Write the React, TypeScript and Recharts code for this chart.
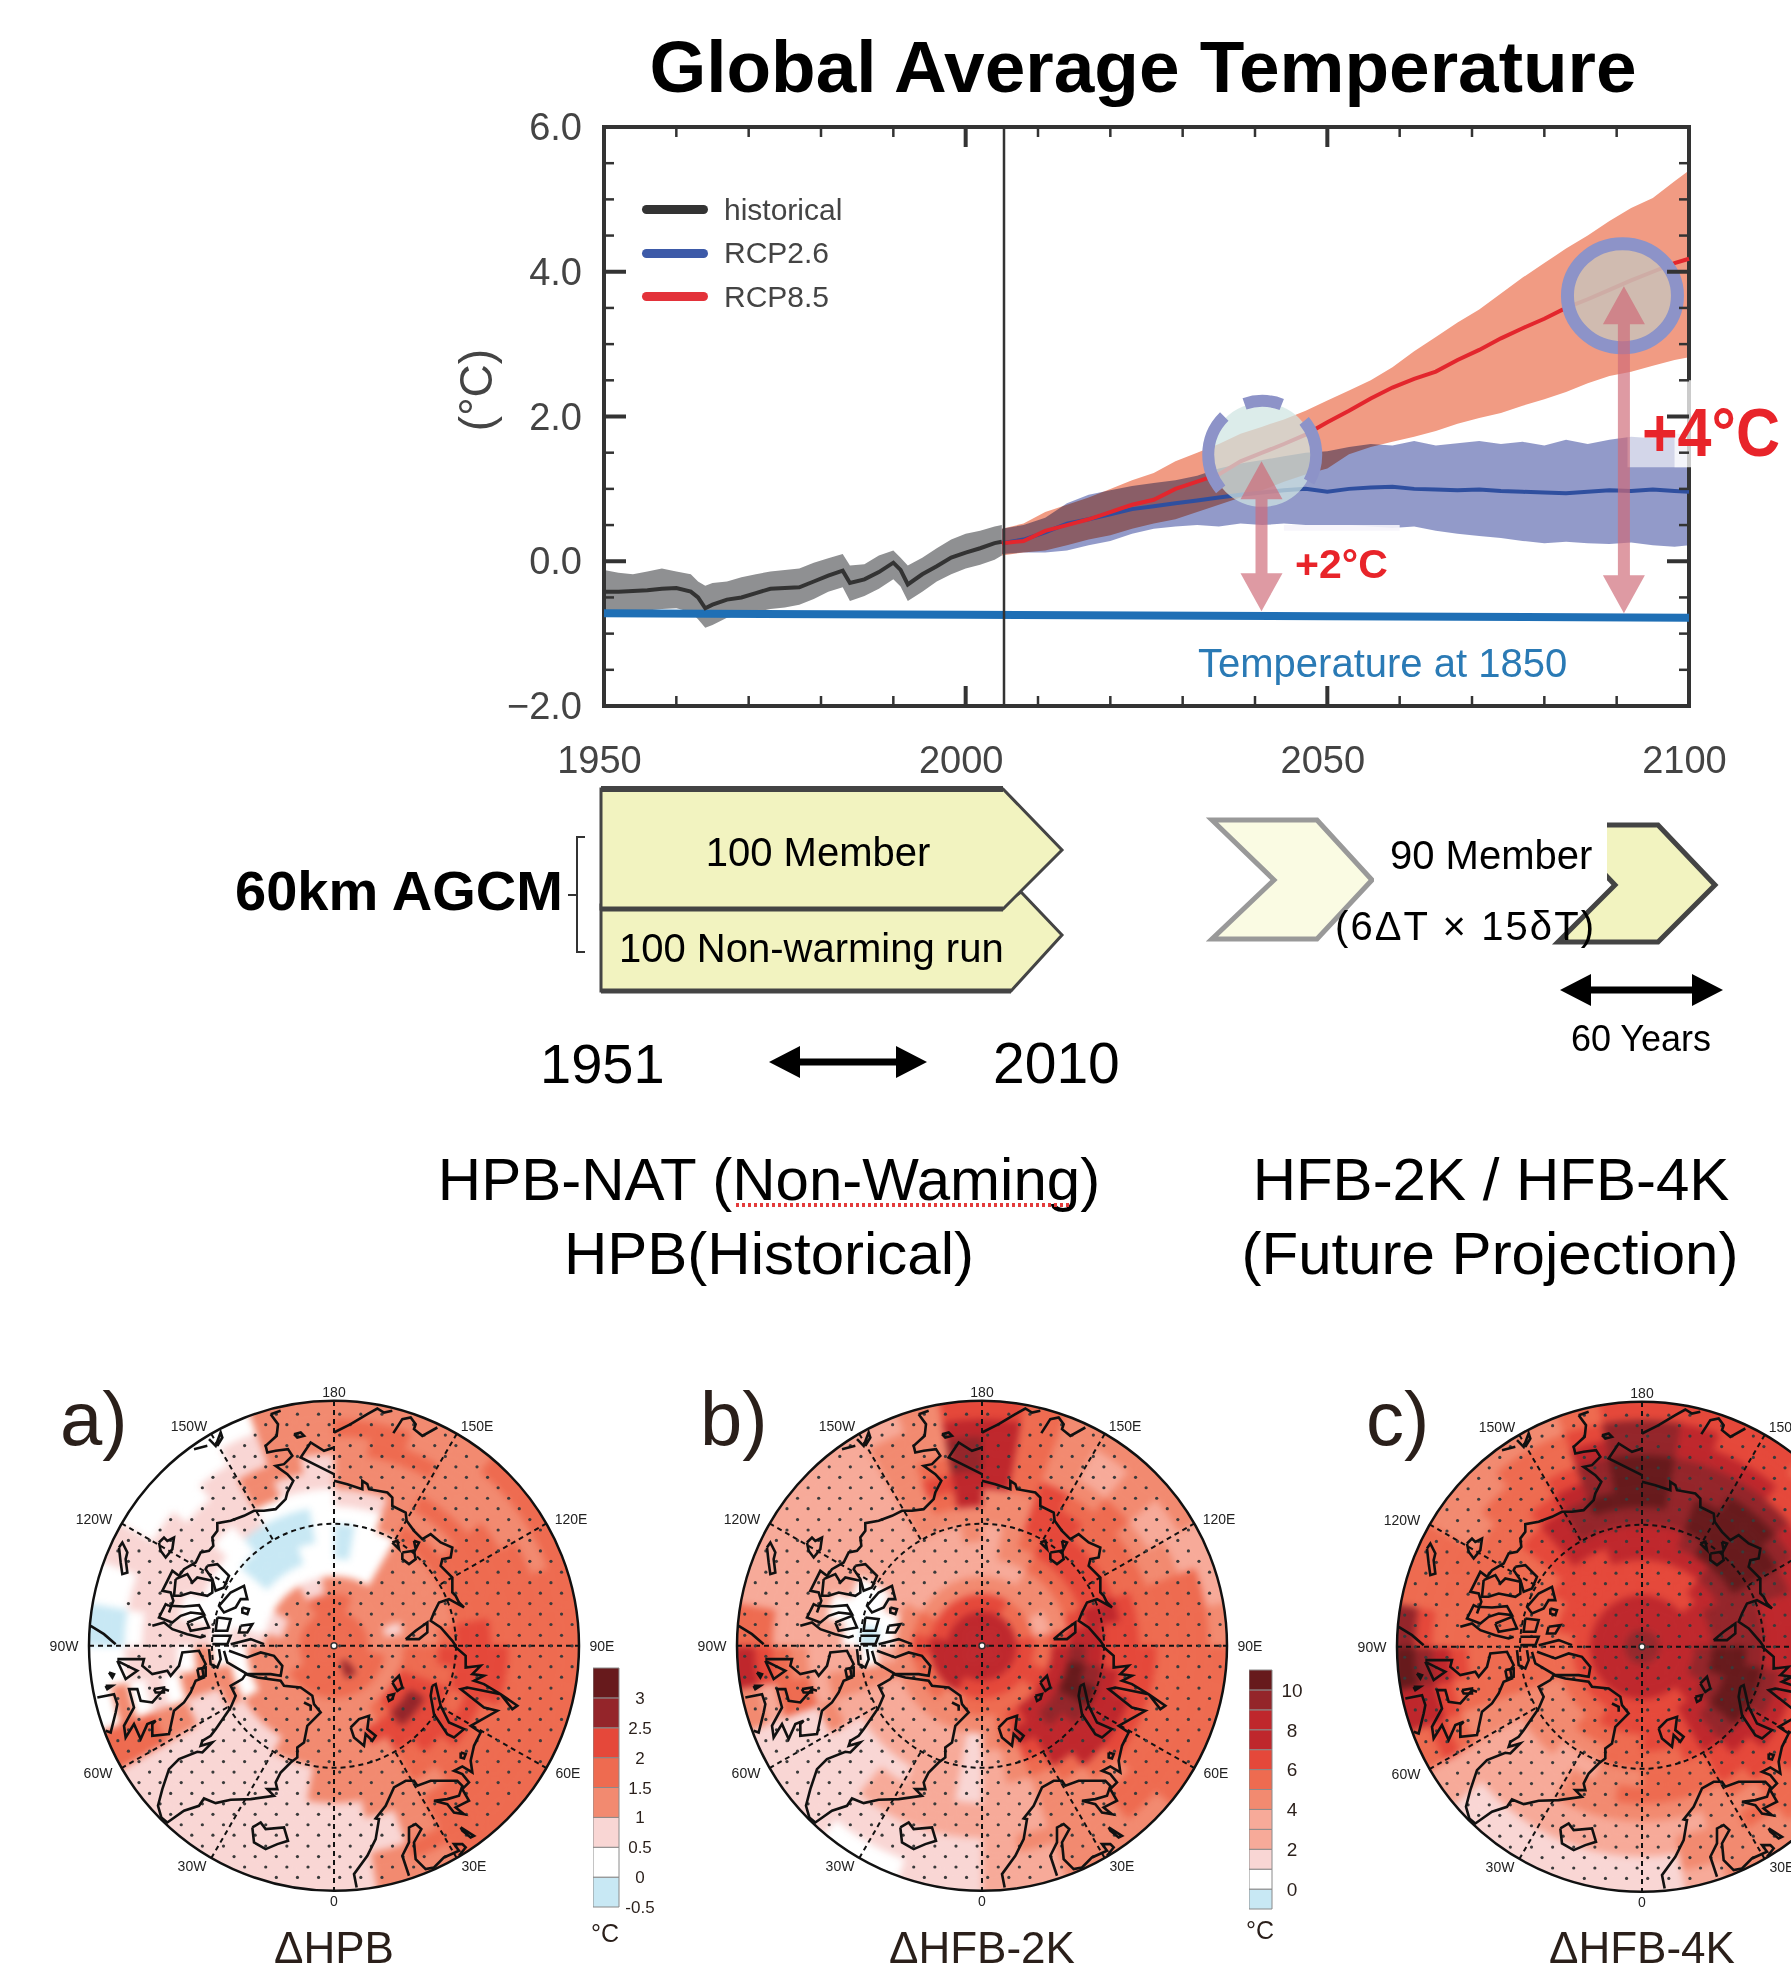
import React from 'react'
import {
  Area,
  Bar,
  BarChart,
  Cell,
  ComposedChart,
  Legend,
  Line,
  Pie,
  PieChart,
  ReferenceArea,
  ReferenceDot,
  ReferenceLine,
  Scatter,
  ScatterChart,
  XAxis,
  YAxis,
} from 'recharts'

// ---- top panel: global average temperature ----
const histYears = [1950, 1952, 1954, 1956, 1958, 1960, 1962, 1963, 1964, 1965, 1967, 1969, 1971, 1973, 1975, 1977, 1979, 1981, 1983, 1984, 1986, 1988, 1990, 1991, 1992, 1994, 1996, 1998, 2000, 2002, 2004, 2005]
const histMean = [-0.42, -0.42, -0.41, -0.4, -0.38, -0.37, -0.42, -0.5, -0.65, -0.6, -0.53, -0.5, -0.44, -0.38, -0.37, -0.36, -0.28, -0.2, -0.13, -0.3, -0.25, -0.15, -0.02, -0.12, -0.32, -0.18, -0.07, 0.05, 0.12, 0.18, 0.25, 0.27]
const histHigh = [-0.12, -0.16, -0.18, -0.14, -0.1, -0.14, -0.18, -0.28, -0.34, -0.3, -0.28, -0.22, -0.18, -0.14, -0.12, -0.1, -0.02, 0.04, 0.1, -0.06, -0.04, 0.08, 0.15, 0.05, -0.06, 0.05, 0.18, 0.3, 0.38, 0.42, 0.48, 0.5]
const histLow = [-0.72, -0.7, -0.68, -0.68, -0.66, -0.65, -0.7, -0.8, -0.92, -0.88, -0.78, -0.75, -0.7, -0.66, -0.64, -0.6, -0.52, -0.42, -0.36, -0.55, -0.48, -0.38, -0.25, -0.35, -0.55, -0.42, -0.28, -0.18, -0.1, -0.05, 0.02, 0.08]

const futureYears = [2005, 2008, 2011, 2014, 2017, 2020, 2023, 2026, 2029, 2032, 2035, 2038, 2041, 2044, 2047, 2050, 2053, 2056, 2059, 2062, 2065, 2068, 2071, 2074, 2077, 2080, 2083, 2086, 2089, 2092, 2095, 2098, 2100]
const rcp85Mean = [0.25, 0.28, 0.42, 0.5, 0.58, 0.68, 0.78, 0.85, 1.0, 1.1, 1.2, 1.38, 1.5, 1.62, 1.75, 1.92, 2.08, 2.25, 2.4, 2.52, 2.62, 2.78, 2.92, 3.08, 3.22, 3.35, 3.5, 3.62, 3.75, 3.88, 4.0, 4.12, 4.18]
const rcp85High = [0.45, 0.52, 0.68, 0.78, 0.88, 1.0, 1.12, 1.22, 1.38, 1.5, 1.62, 1.76, 1.86, 1.96, 2.08, 2.22, 2.36, 2.5, 2.68, 2.9, 3.1, 3.3, 3.48, 3.7, 3.92, 4.12, 4.32, 4.5, 4.7, 4.88, 5.02, 5.25, 5.4]
const rcp85Low = [0.08, 0.12, 0.15, 0.22, 0.3, 0.36, 0.45, 0.52, 0.58, 0.68, 0.78, 0.88, 0.98, 1.1, 1.2, 1.28, 1.48, 1.58, 1.65, 1.72, 1.8, 1.9, 1.98, 2.05, 2.15, 2.24, 2.34, 2.46, 2.56, 2.62, 2.7, 2.78, 2.82]
const rcp26Mean = [0.25, 0.3, 0.4, 0.52, 0.58, 0.65, 0.72, 0.76, 0.8, 0.84, 0.88, 0.92, 0.95, 0.98, 1.0, 0.96, 1.0, 1.02, 1.03, 1.0, 0.99, 0.98, 0.99, 0.97, 0.96, 0.95, 0.94, 0.96, 0.98, 0.97, 0.99, 0.97, 0.96]
const rcp26High = [0.45, 0.5, 0.6, 0.8, 0.92, 0.98, 1.04, 1.08, 1.12, 1.18, 1.28, 1.35, 1.4, 1.45, 1.5, 1.52, 1.58, 1.62, 1.6, 1.66, 1.6, 1.63, 1.66, 1.62, 1.65, 1.6, 1.68, 1.62, 1.68, 1.72, 1.7, 1.76, 1.75]
const rcp26Low = [0.1, 0.12, 0.12, 0.15, 0.22, 0.28, 0.38, 0.45, 0.48, 0.5, 0.48, 0.52, 0.5, 0.52, 0.5, 0.5, 0.5, 0.48, 0.46, 0.48, 0.42, 0.38, 0.35, 0.32, 0.28, 0.25, 0.27, 0.25, 0.24, 0.26, 0.22, 0.2, 0.22]

const baseYears = [1950, 2000, 2050, 2100]
const baseTemp = [-0.72, -0.74, -0.76, -0.78]

const xTicks = [1950, 1960, 1970, 1980, 1990, 2000, 2010, 2020, 2030, 2040, 2050, 2060, 2070, 2080, 2090, 2100]
const yTicks = [-2, -1.5, -1, -0.5, 0, 0.5, 1, 1.5, 2, 2.5, 3, 3.5, 4, 4.5, 5, 5.5, 6]
const legendNames = ['historical', 'RCP2.6', 'RCP8.5']
const legendColors = ['#333333', '#3d5aa8', '#e3323a']

const PLOT_LEFT = 604
const PLOT_RIGHT = 1689
const PLOT_TOP = 127
const PLOT_BOTTOM = 706

const rowsByYear = new Map<number, any>()
const rowFor = (year: number) => {
  if (!rowsByYear.has(year)) rowsByYear.set(year, { year })
  return rowsByYear.get(year)
}
histYears.forEach((y, i) => {
  Object.assign(rowFor(y), { hist: histMean[i], histBand: [histLow[i], histHigh[i]] })
})
futureYears.forEach((y, i) => {
  Object.assign(rowFor(y), {
    rcp85: rcp85Mean[i],
    rcp85Band: [rcp85Low[i], rcp85High[i]],
    rcp26: rcp26Mean[i],
    rcp26Band: [rcp26Low[i], rcp26High[i]],
  })
})
baseYears.forEach((y, i) => {
  rowFor(y).base = baseTemp[i]
})
const tempRows = Array.from(rowsByYear.values()).sort((a, b) => a.year - b.year)

const YTick = ({ x, y, payload }: any) => {
  const v = payload.value
  const major = v % 2 === 0
  const len = major ? 22 : 10
  const w = major ? 4 : 2.5
  return (
    <g>
      <line x1={PLOT_LEFT} x2={PLOT_LEFT + len} y1={y} y2={y} stroke="#333" strokeWidth={w} />
      <line x1={PLOT_RIGHT} x2={PLOT_RIGHT - len} y1={y} y2={y} stroke="#333" strokeWidth={w} />
      {major && (
        <text x={x - 22} y={y + 13} textAnchor="end" fontSize={38} fill="#444">
          {(v < 0 ? '\u2212' : '') + Math.abs(v).toFixed(1)}
        </text>
      )}
    </g>
  )
}

const XTick = ({ x, y, payload }: any) => {
  const v = payload.value
  const major = v % 50 === 0
  const len = major ? 20 : 10
  const w = major ? 4 : 2.5
  return (
    <g>
      <line x1={x} x2={x} y1={PLOT_BOTTOM} y2={PLOT_BOTTOM - len} stroke="#333" strokeWidth={w} />
      <line x1={x} x2={x} y1={PLOT_TOP} y2={PLOT_TOP + len} stroke="#333" strokeWidth={w} />
      {major && (
        <text x={x - 4.5} y={y + 67} textAnchor="middle" fontSize={38} fill="#444">
          {v}
        </text>
      )}
    </g>
  )
}

const TempLegend = () => (
  <div style={{ fontFamily: '"Liberation Sans"', fontSize: 30, color: '#444' }}>
    {legendNames.map((name, i) => (
      <div key={name} style={{ display: 'flex', alignItems: 'center', height: 43.5 }}>
        <span
          style={{
            display: 'inline-block',
            width: 66,
            height: 9,
            borderRadius: 4.5,
            marginRight: 16,
            background: legendColors[i],
          }}
        />
        {name}
      </div>
    ))}
  </div>
)

const DoubleArrow = ({ x1, y1, y2 }: any) => {
  const top = Math.min(y1, y2)
  const bottom = Math.max(y1, y2)
  const hw = 21
  const hh = 38
  return (
    <path
      d={`M${x1} ${top} L${x1 + hw} ${top + hh} L${x1 + 6} ${top + hh} L${x1 + 6} ${bottom - hh} L${x1 + hw} ${bottom - hh} L${x1} ${bottom} L${x1 - hw} ${bottom - hh} L${x1 - 6} ${bottom - hh} L${x1 - 6} ${top + hh} L${x1 - hw} ${top + hh} Z`}
      fill="#cf6a78"
      fillOpacity={0.68}
    />
  )
}

const DashedRing = ({ x1, y1 }: any) => (
  <g>
    <circle cx={x1} cy={y1} r={52} fill="#cfe5e2" fillOpacity={0.72} />
    <circle cx={x1} cy={y1} r={54} fill="none" stroke="#8d93c8" strokeWidth={12} strokeDasharray="28 104 80 24 38 28 38 0" />
  </g>
)

const SolidRing = ({ x1, y1 }: any) => (
  <g>
    <ellipse cx={x1} cy={y1} rx={54} ry={52} fill="#cbbfb6" fillOpacity={0.88} />
    <ellipse cx={x1} cy={y1} rx={55} ry={52} fill="none" stroke="#8d93c8" strokeWidth={13} />
  </g>
)

const TempChart = () => (
  <div style={{ position: 'absolute', left: 0, top: 0 }}>
    <style>{`.mult-band path { mix-blend-mode: multiply; }`}</style>
    <ComposedChart
      width={1791}
      height={800}
      data={tempRows}
      margin={{ top: PLOT_TOP, left: PLOT_LEFT - 60, right: 1791 - PLOT_RIGHT, bottom: 800 - PLOT_BOTTOM - 70 }}
    >
      <XAxis dataKey="year" type="number" domain={[1950, 2100]} ticks={xTicks} interval={0} height={70} axisLine={false} tickLine={false} tickSize={0} tickMargin={0} tick={<XTick />} />
      <YAxis type="number" domain={[-2, 6]} ticks={yTicks} interval={0} width={60} axisLine={false} tickLine={false} tickSize={0} tickMargin={0} tick={<YTick />} />
      <Area dataKey="rcp85Band" stroke="none" fill="#f19b83" fillOpacity={1} legendType="none" isAnimationActive={false} />
      <Area dataKey="rcp26Band" className="mult-band" stroke="none" fill="#7f88c0" fillOpacity={0.85} legendType="none" isAnimationActive={false} />
      <Area dataKey="histBand" stroke="none" fill="#8f9092" fillOpacity={1} legendType="none" isAnimationActive={false} />
      <ReferenceArea x1={2044} x2={2060} y1={0.42} y2={0.5} fill="#f6f4fb" fillOpacity={0.9} stroke="none" />
      <ReferenceArea x1={2091.5} x2={2100} y1={1.3} y2={1.76} fill="#ffffff" fillOpacity={0.6} stroke="none" />
      <Line dataKey="base" name="base" stroke="#1f6fb5" strokeWidth={8} dot={false} connectNulls legendType="none" isAnimationActive={false} />
      <Line dataKey="hist" name="historical" stroke="#333333" strokeWidth={4} dot={false} isAnimationActive={false} />
      <Line dataKey="rcp26" name="RCP2.6" stroke="#2f4f9f" strokeWidth={4} dot={false} isAnimationActive={false} />
      <Line dataKey="rcp85" name="RCP8.5" stroke="#e3262d" strokeWidth={4} dot={false} isAnimationActive={false} />
      <ReferenceArea x1={1950} x2={2100} y1={-2} y2={6} fill="none" stroke="#333" strokeWidth={4} />
      <ReferenceArea x1={2098} x2={2101} y1={1.3} y2={2.5} fill="#fff" fillOpacity={0.75} stroke="none" ifOverflow="visible" />
      <ReferenceLine x={2005.3} stroke="#333" strokeWidth={2.5} />
      <ReferenceLine segment={[{ x: 2041, y: 1.47 }, { x: 2041, y: 1.47 }]} shape={<DashedRing />} ifOverflow="visible" />
      <ReferenceLine segment={[{ x: 2090.8, y: 3.67 }, { x: 2090.8, y: 3.67 }]} shape={<SolidRing />} ifOverflow="visible" />
      <ReferenceLine segment={[{ x: 2040.9, y: 1.38 }, { x: 2040.9, y: -0.69 }]} shape={<DoubleArrow />} ifOverflow="visible" />
      <ReferenceLine segment={[{ x: 2091, y: 3.8 }, { x: 2091, y: -0.72 }]} shape={<DoubleArrow />} ifOverflow="visible" />
      <Legend
        layout="vertical"
        align="center"
        verticalAlign="middle"
        wrapperStyle={{ left: 642, top: 188, width: 260, height: 135 }}
        content={<TempLegend />}
      />
    </ComposedChart>
  </div>
)

// ---- polar maps: contour level of each cell, ring by ring from the pole, clockwise from 180 ----
const levelColors = ['#c8e8f4', '#ffffff', '#f9d6d4', '#f7aa99', '#f28a70', '#ee6b50', '#e5483a', '#bf272c', '#94252a', '#671a1c']

const mapARings = [
  '555555555 555555555 555555555 555555555',
  '555555555 555558855 555555555 555555555',
  '554444444 455555555 555555444 444444555',
  '444444424 444444444 444444444 422444224',
  '111444444 556665444 444444444 211111111',
  '011444444 556886644 444444111 211100011',
  '011444445 656666444 444222441 111100001',
  '114555556 665665444 422222244 211110001',
  '224445556 666655444 422222241 212212111',
  '444555555 665554442 222222412 222222422',
  '444445555 555555422 222222422 222222442',
  '455444555 555555422 222222512 122212244',
  '554444455 555555542 222222541 012111244',
  '444455555 555555442 222222511 012111144',
].map((r) => r.replace(/ /g, ''))

const mapBRings = [
  '777777777 777777777 777777777 777777777',
  '777777777 777777777 777777777 777777777',
  '666555556 666666666 666777777 766666666',
  '444444335 556655555 554455556 655444444',
  '333444446 777777654 444444444 444333333',
  '344555567 899887754 233333343 113333333',
  '345666677 789877643 233333341 011333334',
  '446666676 677777543 233333343 111333444',
  '446655566 667775433 233222343 313333457',
  '756555555 666654433 333322433 333333467',
  '754454455 555544433 333322254 333333458',
  '754343455 555554443 222222255 333333448',
  '754343355 555554433 222222236 533333447',
  '654444334 555544433 221122247 533333346',
].map((r) => r.replace(/ /g, ''))

const mapCRings = [
  '888888888 888888888 888888888 888888888',
  '777777777 777777777 777777777 777777777',
  '777777777 777777777 777777777 777777777',
  '666667777 888776666 666666666 666666666',
  '666677888 998877666 666555555 566666666',
  '777788888 999987666 555544455 555666677',
  '778999888 899987655 554444455 555567777',
  '889999877 788776555 443344455 555567888',
  '989999877 777766555 544333455 555567899',
  '988998776 666665444 444333455 555556789',
  '988887665 666654433 333333456 555555689',
  '877766555 566555443 333333567 555455578',
  '876665455 555554442 222223678 655445568',
  '666655445 555544432 222223579 855444456',
].map((r) => r.replace(/ /g, ''))

// coastlines, traced quadrant by quadrant off the middle map
const coastsNW = [
  [[560, 55], [582, 85], [578, 120], [545, 150], [550, 170], [575, 165], [612, 160], [625, 180], [600, 205], [575, 210], [610, 235], [628, 255], [610, 290], [605, 310], [575, 340], [540, 345], [510, 345], [480, 360], [440, 375], [400, 382], [400, 405], [385, 425], [388, 450], [375, 465], [350, 470], [335, 500], [300, 520], [285, 540], [265, 525], [250, 555], [235, 585], [260, 590], [268, 615], [255, 650]],
  [[275, 550], [310, 535], [325, 560], [340, 545], [385, 555], [385, 590], [370, 600], [320, 590], [290, 600], [270, 600], [275, 550]],
  [[370, 510], [400, 505], [435, 540], [420, 575], [395, 585], [385, 550], [365, 520], [370, 510]],
  [[255, 630], [300, 632], [345, 628], [360, 655], [320, 650], [290, 660], [265, 680], [225, 665], [245, 625], [255, 630]],
  [[205, 690], [240, 680], [265, 700], [310, 715], [350, 725], [365, 720]],
  [[310, 680], [360, 660], [375, 695], [320, 705], [310, 680]],
  [[400, 665], [440, 670], [430, 705], [395, 705], [400, 665]],
  [[405, 630], [440, 590], [480, 570], [490, 610], [470, 610], [455, 635], [420, 650], [405, 630]],
  [[475, 635], [495, 640], [490, 655], [475, 650], [475, 635]],
  [[470, 690], [505, 685], [490, 710], [465, 710], [470, 690]],
  [[385, 720], [440, 720], [430, 745], [385, 745]],
  [[440, 745], [500, 730], [540, 745]],
  [[20, 690], [60, 715], [95, 745]],
  [[225, 440], [240, 425], [250, 435], [270, 425], [265, 460], [245, 485], [230, 465], [225, 440]],
  [[105, 455], [115, 440], [130, 470], [125, 490], [130, 530], [115, 535], [110, 500], [105, 455]],
  [[630, 115], [650, 110], [660, 120], [640, 125], [630, 115]],
  [[750, 235], [690, 205], [650, 185], [680, 140], [720, 165], [750, 155]],
  [[375, 130], [395, 150], [410, 110], [415, 125], [400, 150]],
  [[330, 160], [370, 150]],
  [[560, 55], [590, 45]],
]
const coastsNE = [
  [[0, 255], [40, 265], [85, 280], [85, 255], [100, 265], [105, 280], [160, 290], [175, 305], [175, 330], [215, 350], [218, 375], [240, 405], [265, 430], [290, 415], [320, 440], [355, 455], [350, 485], [325, 490], [320, 510], [355, 545], [355, 590], [365, 600], [375, 620], [390, 635], [345, 610], [315, 620], [300, 650], [290, 675], [320, 695], [355, 735], [365, 750]],
  [[175, 440], [190, 435], [195, 460], [175, 440]],
  [[240, 435], [255, 440], [245, 460], [240, 435]],
  [[205, 470], [240, 465], [245, 490], [225, 505], [205, 490], [205, 470]],
  [[215, 730], [245, 705], [280, 680], [280, 710], [255, 730], [215, 730]],
  [[0, 110], [50, 85], [100, 55], [130, 38], [150, 50], [175, 45]],
  [[178, 112], [205, 70], [230, 65], [245, 85], [240, 100], [265, 120], [310, 95]],
]
const coastsSW = [
  [[100, 40], [160, 40], [180, 40], [175, 60], [205, 85], [250, 75], [260, 90], [285, 60], [295, 20], [345, 15], [365, 55], [355, 70], [360, 95], [335, 105], [320, 140], [300, 170], [270, 195], [255, 265], [205, 270], [205, 235], [215, 225], [190, 235], [170, 280], [150, 235], [125, 275], [120, 240], [150, 185], [135, 130], [160, 130], [170, 165], [205, 170], [240, 130], [255, 135]],
  [[210, 130], [240, 125], [240, 140], [215, 140], [210, 130]],
  [[340, 70], [365, 65], [365, 90], [345, 95], [340, 70]],
  [[100, 45], [125, 100], [160, 75], [130, 60], [100, 45]],
  [[40, 155], [90, 145], [100, 175], [95, 200], [80, 260], [65, 255]],
  [[75, 80], [90, 85], [85, 95], [75, 80]],
  [[65, 120], [85, 120], [70, 130], [65, 120]],
  [[440, 185], [455, 150], [440, 120], [475, 100], [485, 85], [520, 95], [590, 105], [600, 120], [650, 125], [685, 150], [690, 175], [710, 200], [670, 240], [660, 290], [640, 305], [640, 335], [620, 350], [590, 380], [575, 410], [580, 430], [550, 430], [570, 450], [500, 460], [440, 462], [395, 472], [360, 458], [345, 480], [300, 495], [250, 530], [232, 515], [222, 480], [235, 430], [255, 370], [285, 340], [340, 318], [355, 320], [385, 290], [350, 300], [355, 285], [380, 270], [395, 250], [440, 185]],
  [[660, 170], [680, 180], [680, 195]],
  [[505, 545], [530, 530], [545, 550], [600, 545], [612, 585], [580, 595], [545, 610], [510, 590], [505, 545]],
  [[375, 10], [380, 55], [400, 65], [410, 40], [405, 10]],
  [[420, 15], [430, 50], [490, 85], [560, 85], [590, 90], [595, 60], [570, 30], [530, 20], [490, 35], [435, 15]],
]
const coastsSE = [
  [[68, 725], [60, 685], [100, 630], [125, 580], [135, 520], [125, 518], [155, 480], [180, 425], [215, 405], [240, 405], [250, 420], [290, 405], [370, 405], [385, 420], [375, 450], [340, 460], [300, 465], [340, 475], [360, 500], [390, 505], [365, 485], [405, 465], [385, 430], [405, 410], [385, 385], [360, 375], [385, 362], [415, 380], [410, 345], [420, 300], [440, 260], [410, 240], [490, 195], [450, 185], [380, 130], [400, 125], [500, 145], [550, 180], [535, 190], [500, 145], [450, 115], [420, 105], [450, 90], [415, 85], [440, 60], [395, 65], [395, 30], [360, 0]],
  [[295, 120], [305, 115], [320, 180], [345, 230], [390, 250], [360, 275], [340, 265], [300, 205], [290, 150], [295, 120]],
  [[50, 245], [75, 220], [105, 210], [100, 250], [125, 270], [115, 285], [95, 265], [90, 300], [60, 275], [50, 245]],
  [[160, 150], [180, 145], [175, 160], [165, 165], [160, 150]],
  [[175, 110], [195, 90], [205, 125], [190, 135], [175, 110]],
  [[225, 690], [205, 630], [225, 590], [225, 545], [245, 535], [262, 550], [240, 590], [245, 640], [275, 670], [300, 665], [330, 635], [375, 615], [360, 595], [385, 595], [395, 605], [375, 630]],
  [[380, 545], [420, 570], [410, 575], [385, 555], [380, 545]],
  [[380, 320], [395, 325], [390, 338], [380, 335], [380, 320]],
]

// the maps were read with the pole at 720, 717
const MAP_X = [117, 1323]
const MAP_Y = [85, 1350]
const fromCrop = (segs: number[][][], ox: number, oy: number) =>
  segs.map((seg) =>
    seg.map(([cx, cy]) => ({ x: 720 + (cx / 3 + ox) / 0.4063, y: 717 + (cy / 3 + oy) / 0.3874 })),
  )
const coasts = [
  ...fromCrop(coastsNW, -250, -250),
  ...fromCrop(coastsNE, 0, -250),
  ...fromCrop(coastsSW, -250, 0),
  ...fromCrop(coastsSE, 0, 0),
]

const spokes = [
  [720, 85, 720, 1350],
  [117, 717, 1323, 717],
  [1022, 170, 870, 444],
  [1243, 401, 981, 559],
  [1243, 1033, 981, 875],
  [1022, 1265, 870, 990],
  [418, 1265, 570, 990],
  [197, 1033, 459, 875],
  [197, 401, 459, 559],
  [418, 170, 570, 444],
]

const stippleRows = [119, 146, 173, 200, 228, 255, 282, 309, 336, 363, 391, 418, 445, 472, 499, 527, 554, 581, 608, 635, 662, 690, 717, 744, 771, 798, 826, 853, 880, 907, 934, 962, 989, 1016, 1043, 1070, 1098, 1125, 1152, 1179, 1206, 1234, 1261, 1288, 1315]
const stippleColsA = [162, 214, 266, 318, 370, 422, 474, 526, 578, 630, 682, 734, 786, 838, 890, 942, 994, 1046, 1098, 1150, 1202, 1254, 1306]
const stippleColsB = [136, 188, 240, 292, 344, 396, 448, 500, 552, 604, 656, 708, 760, 812, 864, 916, 968, 1020, 1072, 1124, 1176, 1228, 1280]

const lonLabels = [
  { text: '180', dx: 0, dy: -254 },
  { text: '150E', dx: 143, dy: -220 },
  { text: '120E', dx: 237, dy: -127 },
  { text: '90E', dx: 268, dy: 0 },
  { text: '60E', dx: 234, dy: 127 },
  { text: '30E', dx: 140, dy: 220 },
  { text: '0', dx: 0, dy: 255 },
  { text: '30W', dx: -142, dy: 220 },
  { text: '60W', dx: -236, dy: 127 },
  { text: '90W', dx: -270, dy: 0 },
  { text: '120W', dx: -240, dy: -127 },
  { text: '150W', dx: -145, dy: -220 },
]

const stippleFor = (rings: string[]) => {
  const pts: { x: number; y: number }[] = []
  stippleRows.forEach((y, i) => {
    const cols = i % 2 === 0 ? stippleColsA : stippleColsB
    cols.forEach((x) => {
      const dx = (x - 720) / 603
      const dy = (717 - y) / 632
      const r = Math.sqrt(dx * dx + dy * dy)
      if (r > 0.98) return
      const ang = ((Math.atan2(dx, dy) * 180) / Math.PI + 360) % 360
      const level = Number(rings[Math.min(13, Math.floor(r * 14))][Math.floor(ang / 10) % 36])
      if (level > 1) pts.push({ x, y })
    })
  })
  return pts
}

const RING_WIDTH = 245 / 14

const PolarMap = ({ rings, cx, cy }: { rings: string[]; cx: number; cy: number }) => {
  const box = { position: 'absolute' as const, left: cx - 250, top: cy - 250 }
  return (
    <>
      {/* soft edges so the cells read like the smooth contours, clipped back to the disc */}
      <div style={{ ...box, width: 500, height: 500, clipPath: 'circle(245px at 250px 250px)' }}>
        <div style={{ filter: 'blur(3.5px)' }}>
          <PieChart width={500} height={500} margin={{ top: 0, left: 0, right: 0, bottom: 0 }}>
            {rings.map((ring, k) => (
              <Pie
                key={k}
                data={ring.split('').map((c, i) => ({ name: i, value: 1, level: Number(c) }))}
                dataKey="value"
                cx={250}
                cy={250}
                innerRadius={k * RING_WIDTH}
                outerRadius={k === rings.length - 1 ? 265 : (k + 1) * RING_WIDTH}
                startAngle={90}
                endAngle={-270}
                paddingAngle={0}
                legendType="none"
                isAnimationActive={false}
              >
                {ring.split('').map((c, i) => (
                  <Cell key={i} fill={levelColors[Number(c)]} stroke={levelColors[Number(c)]} strokeWidth={0.7} />
                ))}
              </Pie>
            ))}
          </PieChart>
        </div>
      </div>
      <div style={box}>
        <ScatterChart width={500} height={500} margin={{ top: 5, left: 5, right: 5, bottom: 5 }}>
          <XAxis dataKey="x" type="number" domain={MAP_X} hide />
          <YAxis dataKey="y" type="number" domain={MAP_Y} reversed hide />
          <Scatter
            data={stippleFor(rings)}
            shape={(p: any) => <circle cx={p.cx} cy={p.cy} r={1.6} fill="#3a3a3a" />}
            isAnimationActive={false}
          />
          {coasts.map((seg, i) => (
            <Scatter
              key={i}
              data={seg}
              line={{ stroke: '#111', strokeWidth: 2.6 }}
              lineType="joint"
              shape={() => <g />}
              isAnimationActive={false}
            />
          ))}
          {spokes.map(([x1, y1, x2, y2], i) => (
            <ReferenceLine
              key={i}
              segment={[{ x: x1, y: y1 }, { x: x2, y: y2 }]}
              stroke="#111"
              strokeWidth={2}
              strokeDasharray="5 4"
              ifOverflow="visible"
            />
          ))}
          <ReferenceDot x={720} y={717} r={122} fill="none" stroke="#111" strokeWidth={2} strokeDasharray="5 4" ifOverflow="visible" />
          <ReferenceDot x={720} y={717} r={245} fill="none" stroke="#111" strokeWidth={2.5} ifOverflow="visible" />
          <ReferenceDot x={720} y={717} r={3} fill="#fff" stroke="#333" strokeWidth={1.5} ifOverflow="visible" />
        </ScatterChart>
      </div>
    </>
  )
}

// ---- colour bars ----
const barAColors = ['#c8e8f4', '#ffffff', '#f9d6d4', '#f28a70', '#ee6b50', '#e5483a', '#94252a', '#671a1c']
const barALabels = ['-0.5', '0', '0.5', '1', '1.5', '2', '2.5', '3']
const barATicks = [0, 1, 2, 3, 4, 5, 6, 7]
const barBColors = ['#c8e8f4', '#ffffff', '#f9d6d4', '#f7aa99', '#f7aa99', '#f28a70', '#ee6b50', '#e5483a', '#bf272c', '#bf272c', '#94252a', '#671a1c']
const barBLabels = ['0', '2', '4', '6', '8', '10']
const barBTicks = [1, 3, 5, 7, 9, 11]

const ColorBar = ({ colors, ticks, labels, left, top, height, barWidth, labelX, fontSize }: any) => {
  const row: any = { name: 'levels' }
  colors.forEach((_: string, i: number) => {
    row['b' + i] = 1
  })
  return (
    <div style={{ position: 'absolute', left, top: top - 12 }}>
      <BarChart
        width={barWidth + 70}
        height={height + 28}
        data={[row]}
        barCategoryGap={0}
        margin={{ top: 12, bottom: 16, left: 0, right: 0 }}
      >
        <XAxis dataKey="name" hide />
        <YAxis
          orientation="right"
          type="number"
          domain={[0, colors.length]}
          ticks={ticks}
          interval={0}
          width={70}
          axisLine={false}
          tickLine={false}
          tick={(p: any) => (
            <text x={labelX} y={p.y + fontSize * 0.36} textAnchor="middle" fontSize={fontSize} fill="#2a1f1a">
              {labels[ticks.indexOf(p.payload.value)]}
            </text>
          )}
        />
        {colors.map((c: string, i: number) => (
          <Bar key={i} dataKey={'b' + i} stackId="cb" fill={c} stroke="#8a8a8a" strokeWidth={1} isAnimationActive={false} />
        ))}
      </BarChart>
    </div>
  )
}

// ---- experiment diagram and free text ----
const DiagramArrow = ({ x1, x2, y }: { x1: number; x2: number; y: number }) => (
  <path
    d={`M${x1} ${y} L${x1 + 31} ${y - 16} L${x1 + 31} ${y - 3.5} L${x2 - 31} ${y - 3.5} L${x2 - 31} ${y - 16} L${x2} ${y} L${x2 - 31} ${y + 16} L${x2 - 31} ${y + 3.5} L${x1 + 31} ${y + 3.5} L${x1 + 31} ${y + 16} Z`}
    fill="#000"
  />
)

const Overlay = () => (
  <svg width={1791} height={1974} style={{ position: 'absolute', left: 0, top: 0, pointerEvents: 'none' }} fontFamily='"Liberation Sans"'>
    <text x={1143} y={92} textAnchor="middle" fontSize={73} fontWeight="bold" fill="#000">Global Average Temperature</text>
    <text transform="translate(492 390) rotate(-90)" textAnchor="middle" fontSize={46} fill="#444">(°C)</text>
    <text x={1198} y={677} fontSize={40} fill="#2a7ab5">Temperature at 1850</text>
    <text x={1295} y={578} fontSize={41} fontWeight="bold" fill="#e8242a">+2°C</text>
    <text x={1642} y={456} fontSize={68} fontWeight="bold" fill="#e8242a" textLength={138} lengthAdjust="spacingAndGlyphs">+4°C</text>

    <polygon points="601,905 1003,905 1021,892 1062,935 1011,991 601,991" fill="#f2f3c0" stroke="#444" strokeWidth={3} />
    <line x1={601} x2={1011} y1={991} y2={991} stroke="#444" strokeWidth={5} />
    <polygon points="601,789 1003,789 1062,850 1003,909 601,909" fill="#f2f3c0" stroke="#444" strokeWidth={3} />
    <line x1={601} x2={1003} y1={789} y2={789} stroke="#444" strokeWidth={6} />
    <line x1={601} x2={1003} y1={909} y2={909} stroke="#444" strokeWidth={5} />
    <polygon points="1212,820 1317,820 1372,880 1317,939 1212,939 1274,880" fill="#fafbe3" stroke="#999" strokeWidth={5} />
    <polygon points="1558,825 1658,825 1715,885 1658,942 1558,942 1615,885" fill="#f2f3c0" stroke="#444" strokeWidth={5} />
    <rect x={1374} y={815} width={233} height={72} fill="#fff" />
    <path d="M585 837 L577 837 L577 952 L585 952 M577 895 L568 895" fill="none" stroke="#333" strokeWidth={2} />

    <text x={818} y={866} textAnchor="middle" fontSize={40} fill="#000">100 Member</text>
    <text x={619} y={962} fontSize={40} fill="#000">100 Non-warming run</text>
    <text x={1390} y={869} fontSize={40} fill="#000">90 Member</text>
    <text x={1335} y={940} fontSize={40} fill="#000" textLength={259} lengthAdjust="spacing">(6ΔT × 15δT)</text>
    <text x={235} y={910} fontSize={56} fontWeight="bold" fill="#000">60km AGCM</text>
    <text x={540} y={1083} fontSize={56} fill="#000">1951</text>
    <text x={993} y={1083} fontSize={57} fill="#000">2010</text>
    <DiagramArrow x1={769} x2={927} y={1062} />
    <DiagramArrow x1={1560} x2={1723} y={990} />
    <text x={1641} y={1051} textAnchor="middle" fontSize={36} fill="#000">60 Years</text>

    <text x={769} y={1200} textAnchor="middle" fontSize={60} fill="#000">HPB-NAT (Non-Waming)</text>
    <line x1={736} x2={1071} y1={1205} y2={1205} stroke="#e33b3b" strokeWidth={4} strokeDasharray="3 3" />
    <text x={769} y={1274} textAnchor="middle" fontSize={60} fill="#000">HPB(Historical)</text>
    <text x={1491} y={1200} textAnchor="middle" fontSize={60} fill="#000">HFB-2K / HFB-4K</text>
    <text x={1490} y={1274} textAnchor="middle" fontSize={60} fill="#000">(Future Projection)</text>

    {[{ cx: 334, cy: 1646 }, { cx: 982, cy: 1646 }, { cx: 1642, cy: 1647 }].map((m) =>
      lonLabels.map((l) => (
        <text key={m.cx + l.text} x={m.cx + l.dx} y={m.cy + l.dy + 5} textAnchor="middle" fontSize={14} fill="#222">
          {l.text}
        </text>
      )),
    )}
    <text x={60} y={1445} fontSize={76} fill="#2a1f1a">a)</text>
    <text x={700} y={1445} fontSize={76} fill="#2a1f1a">b)</text>
    <text x={1366} y={1445} fontSize={76} fill="#2a1f1a">c)</text>
    <text x={334} y={1963} textAnchor="middle" fontSize={44} fill="#2a1f1a">ΔHPB</text>
    <text x={982} y={1963} textAnchor="middle" fontSize={44} fill="#2a1f1a">ΔHFB-2K</text>
    <text x={1642} y={1963} textAnchor="middle" fontSize={44} fill="#2a1f1a">ΔHFB-4K</text>
    <text x={591} y={1942} fontSize={25} fill="#2a1f1a">°C</text>
    <text x={1246} y={1939} fontSize={25} fill="#2a1f1a">°C</text>
  </svg>
)

export default function App() {
  return (
    <div
      style={{
        position: 'absolute',
        left: 0,
        top: 0,
        width: 1791,
        height: 1974,
        overflow: 'hidden',
        background: '#fff',
        fontFamily: '"Liberation Sans"',
      }}
    >
      <TempChart />
      <PolarMap rings={mapARings} cx={334} cy={1646} />
      <PolarMap rings={mapBRings} cx={982} cy={1646} />
      <PolarMap rings={mapCRings} cx={1642} cy={1647} />
      <ColorBar colors={barAColors} ticks={barATicks} labels={barALabels} left={593} top={1668} height={239} barWidth={26} labelX={47} fontSize={17} />
      <ColorBar colors={barBColors} ticks={barBTicks} labels={barBLabels} left={1249} top={1670} height={239} barWidth={23} labelX={43} fontSize={19} />
      <Overlay />
    </div>
  )
}
